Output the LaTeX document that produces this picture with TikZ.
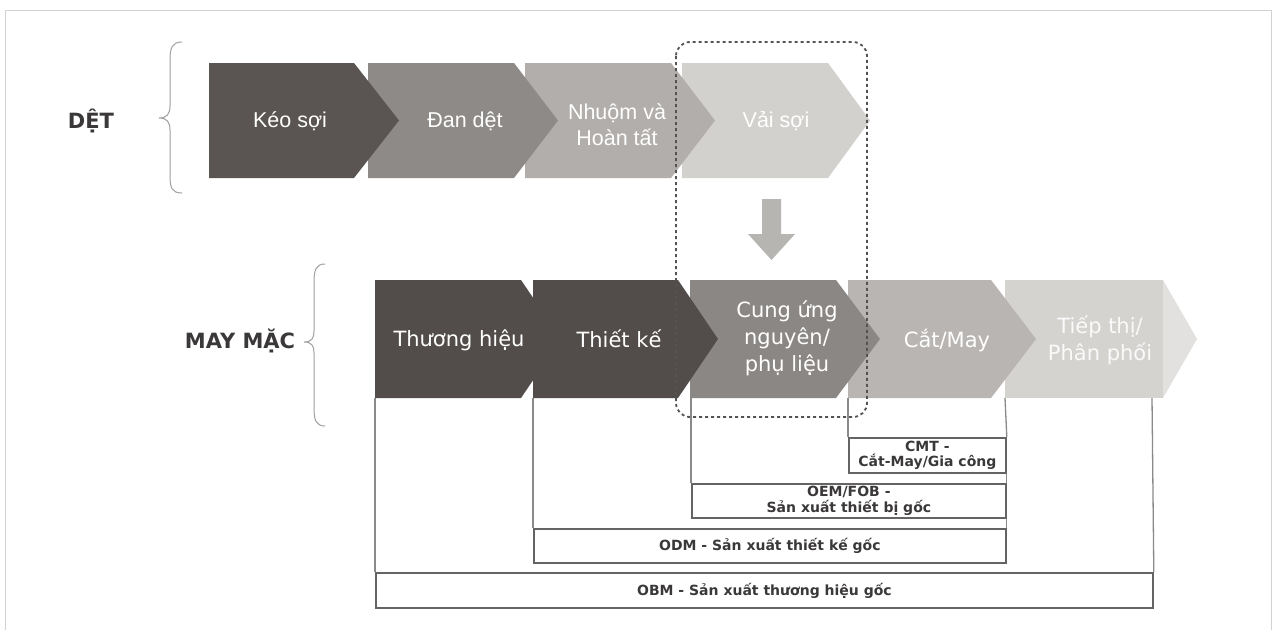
\documentclass[tikz,border=0pt]{standalone}
\usepackage{fontspec}
\setmainfont{DejaVu Sans}
\newfontfamily\arialf{Liberation Sans}
\newfontfamily\dejaf{DejaVu Sans}
\definecolor{ka}{HTML}{5A5552}
\definecolor{kb}{HTML}{8D8A87}
\definecolor{kc}{HTML}{B1AEAB}
\definecolor{kd}{HTML}{D3D1CE}
\definecolor{ma}{HTML}{524D4A}
\definecolor{mb}{HTML}{8A8784}
\definecolor{mc}{HTML}{B8B5B2}
\definecolor{md}{HTML}{D5D3D0}
\definecolor{me}{HTML}{E3E1DF}
\definecolor{boxc}{HTML}{666462}
\definecolor{linec}{HTML}{8C8A88}
\definecolor{framec}{HTML}{D2D2D2}
\definecolor{arrc}{HTML}{B7B5B2}
\definecolor{dashc}{HTML}{555352}
\definecolor{labc}{HTML}{3A3838}
\newcommand\chevshape[6]{% x0, top, bottom, w, d, colour
  \fill[#6] (#1,#2) -- ({#1+#4},#2) -- ({#1+#4+#5},{(#2+#3)/2}) -- ({#1+#4},#3) -- (#1,#3) -- cycle;}
\begin{document}
\begin{tikzpicture}[x=1pt,y=-1pt,
  lbl/.style={text=white, align=center, inner sep=0pt},
  toplbl/.style={lbl, font=\arialf\fontsize{21.5}{26}\selectfont},
  botlbl/.style={lbl, font=\dejaf\fontsize{21}{27}\selectfont},
  side/.style={font=\dejaf\bfseries\fontsize{21}{24}\selectfont, text=labc, inner sep=0pt},
  modelbox/.style={draw=boxc, line width=1.8pt, fill=white, font=\dejaf\bfseries\fontsize{14}{15.5}\selectfont, text=labc, align=center, inner sep=0pt, anchor=north west},
  vline/.style={draw=linec, line width=1.3pt},
  bracestyle/.style={draw=gray!75, line width=1pt},
  dashbox/.style={draw=dashc, line width=1.8pt, dash pattern=on 3pt off 3pt, rounded corners=14pt},
]
\useasboundingbox (0,0) rectangle (1276,629);
\fill[white] (0,0) rectangle (1276,629);
\begin{scope}
\clip (0,0) rectangle (1276,629);
\draw[framec, line width=1pt] (5,660) -- (5,10) -- (1271,10) -- (1271,660);
\end{scope}

% side labels and braces
\node[side] (det) at (91,121) {DỆT};
\node[side] (maymac) at (240,341) {MAY MẶC};
\draw[bracestyle] (182,42) .. controls (172,42) and (170,48) .. (170,60) -- (170,106) .. controls (170,114) and (167,118) .. (159,118) .. controls (167,118) and (170,122) .. (170,130) -- (170,176) .. controls (170,188) and (172,193) .. (182,193);
\draw[bracestyle] (325,264) .. controls (316,264) and (314,270) .. (314,282) -- (314,331) .. controls (314,338) and (312,342) .. (304,342) .. controls (312,342) and (314,346) .. (314,353) -- (314,408) .. controls (314,420) and (316,426) .. (325,426);

% row 1 (textile)
\chevshape{682}{63}{178}{146}{42}{kd}
\chevshape{525}{63}{178}{146}{44}{kc}
\chevshape{368}{63}{178}{146}{44}{kb}
\chevshape{209}{63}{178}{145}{45}{ka}
\node[toplbl] (keo) at (290,121) {Kéo sợi};
\node[toplbl] (dan) at (465,121) {Đan dệt};
\node[toplbl] (nhuom) at (617,125) {Nhuộm và\\Hoàn tất};
\node[toplbl] (vai) at (776,121) {Vải sợi};

% block arrow
\fill[arrc] (762,199) -- (781,199) -- (781,234) -- (795,234) -- (771.5,260) -- (748,234) -- (762,234) -- cycle;

% row 2 (garment)
\fill[md] (1005,280) rectangle (1163,398);
\fill[me] (1163,280) -- (1197,339) -- (1163,398) -- cycle;
\chevshape{848}{280}{398}{143}{45}{mc}
\chevshape{690}{280}{398}{146}{44}{mb}
\chevshape{533}{280}{398}{145}{40}{ma}
\chevshape{375}{280}{398}{146}{40}{ma}
\node[botlbl] (thuong) at (459,340) {Thương hiệu};
\node[botlbl] (thietke) at (619,339) {Thiết kế};
\node[botlbl] (cung) at (787,338) {Cung ứng\\nguyên/\\phụ liệu};
\node[botlbl] (cat) at (947,340) {Cắt/May};
\node[botlbl, text=white!96!gray] (tiep) at (1100,340) {Tiếp thị/\\Phân phối};

% dashed highlight
\draw[dashbox] (676,42) rectangle (867,417);

% model boxes
\node[modelbox, minimum width=157pt, minimum height=35pt] (cmt) at (848,437) {CMT -\\Cắt-May/Gia công};
\node[modelbox, minimum width=314pt, minimum height=34pt] (oem) at (691,483) {OEM/FOB -\\Sản xuất thiết bị gốc};
\node[modelbox, minimum width=472pt, minimum height=34pt] (odm) at (533,528) {ODM - Sản xuất thiết kế gốc};
\node[modelbox, minimum width=777pt, minimum height=35pt] (obm) at (375,572) {OBM - Sản xuất thương hiệu gốc};

% guide lines from value chain to models
\coordinate (g1) at (375,398);
\coordinate (g2) at (533,398);
\coordinate (g3) at (691,398);
\coordinate (g4) at (848,398);
\coordinate (g5) at (1005,398);
\coordinate (g6) at (1152,398);
\draw[vline] (g1) -- (obm.north west);
\draw[vline] (g6) -- (obm.north east);
\draw[vline] (g2) -- (odm.north west);
\draw[vline] (g5) -- (cmt.north east);
\draw[vline] (g3) -- (oem.north west);
\draw[vline] (g4) -- (cmt.north west);
\draw[vline] (cmt.south east) -- (oem.north east);
\draw[vline] (oem.south east) -- (odm.north east);
\end{tikzpicture}
\end{document}
